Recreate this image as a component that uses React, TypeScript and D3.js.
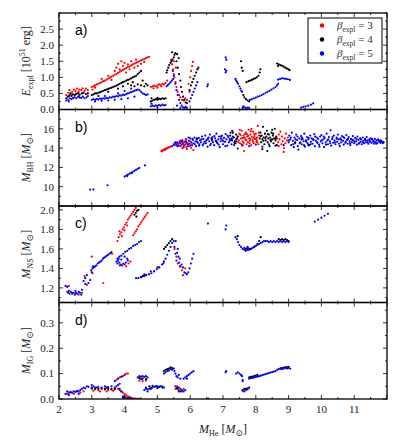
import React from 'react';
import * as d3 from 'd3';

type P = [number, number];

const W = 399, H = 444;
const left = 59, right = 387, top = 13, panelH = 96.5;

// x axis (M_He)
const xTicks = [2, 3, 4, 5, 6, 7, 8, 9, 10, 11];

// ---- panel a: E_expl ----
const aRed: P[] = [
  [2.22,0.45],[2.28,0.52],[2.32,0.6],[2.36,0.48],[2.4,0.55],[2.45,0.62],[2.5,0.58],[2.55,0.65],[2.6,0.55],[2.62,0.62],[2.68,0.6],[2.72,0.66],[2.78,0.58],[2.82,0.65],[2.88,0.6],[2.3,0.42],[2.52,0.5],
  [3.0,0.7],[3.05,0.72],[3.1,0.75],[3.15,0.78],[3.2,0.8],[3.25,0.82],[3.3,0.85],[3.35,0.88],[3.4,0.9],[3.45,0.93],[3.5,0.96],[3.55,0.99],[3.6,1.02],[3.65,1.05],[3.7,1.08],[3.75,1.1],[3.8,1.14],[3.85,1.17],[3.9,1.2],[3.95,1.23],[4.0,1.26],[4.05,1.29],[4.1,1.32],[4.15,1.34],[4.2,1.37],[4.25,1.4],[4.3,1.43],[4.35,1.45],[4.4,1.48],[4.45,1.5],[4.5,1.53],[4.55,1.55],[4.6,1.57],[4.65,1.6],[4.7,1.62],[4.75,1.64],
  [3.02,0.62],[3.1,0.68],[3.3,0.95],[3.5,1.05],[3.6,0.92],[3.7,1.2],[3.75,1.3],[3.8,1.42],[3.85,1.25],[3.9,1.5],[3.95,1.35],[4.0,1.45],[4.05,1.15],[4.1,1.4],[4.15,1.25],[4.2,1.5],[4.3,1.3],[4.35,1.55],[4.4,1.35],[4.5,1.42],[4.6,1.48],
  [4.8,0.7],[4.85,0.72],[4.9,0.74],[4.95,0.72],[5.0,0.75],[5.05,0.78],[5.1,0.76],[5.15,0.8],[5.2,0.78],[4.88,0.66],[5.0,0.68],[5.12,0.72],[5.25,0.82],[5.3,0.9],
  [5.42,1.55],[5.45,1.4],[5.48,1.25],[5.5,1.1],[5.52,1.0],[5.55,0.85],[5.58,0.7],[5.62,0.55],[5.66,0.45],[5.7,0.38],[5.75,0.3],[5.8,0.28],[5.85,0.35],[5.9,0.3],[5.5,1.5],[5.56,1.3],
  [5.95,0.8],[6.0,1.0],[6.03,1.2],[6.06,1.35],[6.08,1.48],[5.98,0.55],
];
const aBlack: P[] = [
  [2.22,0.35],[2.27,0.4],[2.32,0.44],[2.38,0.42],[2.42,0.47],[2.48,0.45],[2.52,0.48],[2.58,0.5],[2.63,0.46],[2.7,0.5],[2.75,0.52],[2.82,0.48],[2.88,0.5],[2.35,0.5],[2.6,0.4],
  [3.0,0.45],[3.05,0.47],[3.1,0.5],[3.15,0.5],[3.2,0.52],[3.25,0.54],[3.3,0.56],[3.35,0.58],[3.4,0.6],[3.45,0.62],[3.5,0.64],[3.55,0.66],[3.6,0.68],[3.65,0.7],[3.7,0.72],[3.75,0.74],[3.8,0.77],[3.85,0.8],[3.9,0.82],[3.95,0.85],[4.0,0.87],[4.05,0.9],[4.1,0.92],[4.15,0.94],[4.2,0.97],[4.25,1.0],[4.3,1.02],[4.35,1.05],[4.4,1.1],[4.45,1.15],[4.5,1.2],
  [4.2,0.75],[4.3,0.72],[4.4,0.78],[4.5,0.75],[4.6,0.72],[4.65,0.8],[4.7,0.75],[4.25,0.85],[4.55,0.9],[3.2,0.42],[3.5,0.55],[3.8,0.65],[3.95,0.72],[4.1,0.8],
  [4.8,0.25],[4.85,0.28],[4.9,0.3],[4.95,0.32],[5.0,0.3],[5.05,0.33],[5.1,0.32],[5.15,0.35],[5.2,0.33],[5.25,0.35],[4.82,0.35],[5.0,0.36],
  [5.28,1.15],[5.3,1.22],[5.33,1.3],[5.36,1.38],[5.4,1.45],[5.43,1.5],[5.46,1.55],[5.5,1.62],[5.52,1.7],[5.55,1.75],[5.45,1.78],[5.6,1.72],[5.65,1.6],[5.58,1.5],
  [5.62,1.3],[5.66,1.1],[5.7,0.9],[5.72,0.7],[5.75,0.55],[5.78,0.4],[5.82,0.3],[5.86,0.22],[5.9,0.2],
  [5.98,0.6],[6.02,0.75],[6.06,0.85],[6.1,0.95],[6.14,1.05],[6.18,1.15],[6.22,1.25],[6.25,1.3],
  [7.55,1.5],[7.57,1.3],[7.6,1.2],[7.62,0.45],[7.65,0.38],[7.7,0.32],[7.75,0.28],[7.8,0.25],[7.72,0.85],[7.78,0.88],[7.83,0.9],[7.88,0.92],[7.93,0.95],[7.98,0.97],[8.03,1.0],[8.08,1.05],[8.12,1.15],[8.14,1.25],
  [8.65,1.43],[8.7,1.4],[8.75,1.38],[8.8,1.36],[8.85,1.33],[8.9,1.3],[8.95,1.27],[9.0,1.25],[9.03,1.22],[8.68,1.35],
];
const aBlue: P[] = [
  [2.22,0.28],[2.28,0.3],[2.33,0.35],[2.38,0.32],[2.43,0.36],[2.48,0.38],[2.53,0.35],[2.58,0.4],[2.63,0.37],[2.68,0.36],[2.73,0.4],[2.78,0.35],[2.84,0.38],[2.88,0.42],[2.3,0.25],
  [3.0,0.3],[3.05,0.32],[3.1,0.3],[3.15,0.33],[3.2,0.31],[3.25,0.34],[3.3,0.33],[3.35,0.35],[3.4,0.34],[3.45,0.36],[3.5,0.35],[3.55,0.38],[3.6,0.37],[3.65,0.4],[3.7,0.39],[3.75,0.42],[3.8,0.41],[3.85,0.44],[3.9,0.43],[3.95,0.46],[4.0,0.45],[4.05,0.48],[4.1,0.5],[4.15,0.52],[4.2,0.54],[4.25,0.56],[4.3,0.58],[4.35,0.6],[4.4,0.62],[4.45,0.6],[4.5,0.55],[4.55,0.5],[4.6,0.48],[4.65,0.45],[4.7,0.47],
  [3.1,0.25],[3.3,0.27],[3.5,0.28],[3.7,0.3],[3.9,0.32],[4.1,0.35],[4.3,0.4],[3.4,0.42],[3.8,0.5],[4.0,0.58],[4.2,0.65],
  [4.8,0.1],[4.85,0.12],[4.9,0.1],[4.95,0.13],[5.0,0.11],[5.05,0.14],[5.1,0.12],[5.15,0.15],[5.2,0.13],[5.25,0.14],[4.82,0.18],[5.0,0.06],
  [5.28,0.72],[5.32,0.76],[5.36,0.8],[5.4,0.85],[5.44,0.9],[5.48,0.95],[5.5,1.05],[5.47,1.2],
  [5.55,0.8],[5.58,0.6],[5.62,0.45],[5.66,0.3],[5.7,0.2],[5.74,0.12],[5.78,0.07],[5.82,0.05],[5.86,0.08],[5.9,0.05],[5.6,0.12],[5.7,0.05],
  [5.98,0.25],[6.02,0.35],[6.06,0.45],[6.1,0.55],[6.14,0.65],[6.18,0.75],[6.22,0.85],
  [6.52,0.72],[6.54,0.78],[7.08,1.62],[7.1,1.55],[7.06,1.25],[7.1,1.2],[7.08,1.15],
  [7.38,0.95],[7.4,0.9],[7.43,0.85],[7.46,0.8],[7.5,0.72],[7.53,0.65],[7.56,0.58],[7.58,0.55],
  [7.6,0.05],[7.65,0.07],[7.7,0.04],[7.75,0.06],[7.8,0.05],[7.62,0.1],
  [7.82,0.3],[7.88,0.32],[7.94,0.35],[8.0,0.37],[8.06,0.4],[8.12,0.42],[8.18,0.45],[8.24,0.48],[8.3,0.52],[8.36,0.55],[8.42,0.58],[8.48,0.62],[8.54,0.66],[8.6,0.7],[8.65,0.75],[8.68,0.8],
  [8.68,0.93],[8.74,0.95],[8.8,0.97],[8.86,0.96],[8.92,0.95],[8.98,0.94],[9.04,0.92],
  [9.38,0.06],[9.45,0.08],[9.52,0.1],[9.6,0.12],[9.68,0.15],[9.75,0.19],
];

// ---- panel b: M_BH ----
const bRed: P[] = [
  [5.12,13.7],[5.15,13.75],[5.18,13.8],[5.2,13.85],[5.23,13.9],[5.26,13.95],[5.3,14.0],[5.33,14.05],[5.36,14.1],[5.4,14.15],[5.14,13.65],[5.22,13.8],[5.28,13.92],
  [5.65,14.5],[5.7,14.2],[5.72,14.8],[5.76,14.0],[5.8,14.6],[5.83,14.3],[5.86,14.9],[5.9,13.9],[5.93,14.5],[5.96,14.2],[6.0,14.7],[6.03,14.0],[6.06,14.4],[6.1,13.8],[5.75,14.4],[5.88,14.1],
  [7.45,15.2],[7.48,14.8],[7.5,15.5],[7.52,14.5],[7.55,15.0],[7.57,15.8],[7.6,14.7],[7.62,15.3],[7.64,13.7],[7.66,15.1],[7.68,14.9],[7.7,15.6],[7.72,14.4],[7.74,15.2],[7.76,14.6],[7.78,15.9],[7.8,15.0],[7.82,14.75],[7.84,15.4],[7.86,14.3],[7.88,15.15],[7.9,14.85],[7.92,15.7],[7.94,14.5],[7.96,15.25],[7.98,14.95],[8.0,15.5],[8.02,14.65],[8.04,15.1],[8.06,16.3],[8.08,14.4],[8.1,15.3],[7.53,15.35],[7.63,14.55],[7.73,15.45],[7.83,14.95],[7.93,15.05],[8.03,14.8],[7.58,14.25],[7.87,16.0],
  [7.47,14.6],[7.51,15.9],[7.56,14.4],[7.61,15.05],[7.67,15.45],[7.71,14.8],[7.77,15.3],[7.81,14.5],[7.85,15.75],[7.91,14.65],[7.95,15.45],[8.01,15.0],[8.05,14.6],[8.09,15.6],
  [8.65,15.0],[8.68,14.6],[8.7,15.4],[8.72,14.9],[8.75,15.7],[8.78,14.4],[8.8,15.2],[8.82,14.7],[8.85,13.6],[8.88,15.0],[8.9,14.5],[8.92,15.5],[8.95,14.8],[8.98,15.1],[8.7,14.2],[8.86,14.0],
];
const bBlack: P[] = [
  [7.22,15.3],[7.26,14.9],[7.3,15.6],[7.33,15.1],[7.36,14.7],[7.4,15.4],[7.43,15.0],[7.28,15.8],[7.38,14.5],[7.45,15.2],
  [8.12,15.0],[8.14,15.6],[8.16,14.6],[8.18,15.3],[8.2,14.9],[8.22,16.2],[8.24,15.1],[8.26,14.4],[8.28,15.5],[8.3,14.8],[8.32,15.2],[8.34,15.8],[8.36,14.6],[8.38,15.0],[8.4,15.4],[8.42,14.2],[8.44,15.1],[8.46,14.7],[8.48,15.6],[8.5,14.9],[8.52,15.3],[8.54,14.5],[8.56,15.0],[8.58,16.0],[8.6,14.8],[8.62,15.2],[8.64,14.3],[8.2,13.9],[8.35,13.7],[8.5,15.9],
  [8.15,15.25],[8.23,14.75],[8.29,15.05],[8.37,15.45],[8.45,14.85],[8.53,15.5],[8.61,15.0],
  [6.65,15.0],[6.8,14.7],[6.95,15.2],[9.2,14.6],[9.4,14.9],[9.6,14.3],[5.95,15.1],[6.2,15.0],
];
const bBlue: P[] = [
  [2.95,9.7],[3.05,9.72],[3.48,10.15],
  [4.0,11.05],[4.05,11.15],[4.1,11.25],[4.15,11.35],[4.2,11.45],[4.25,11.55],[4.3,11.65],[4.35,11.75],[4.4,11.85],[4.45,11.95],[4.08,11.1],[4.22,11.4],[4.62,12.2],
  [5.45,14.2],[5.5,14.4],[5.52,14.3],[5.55,14.5],[5.58,14.35],[5.6,14.6],[5.62,14.45],[5.65,14.25],[5.68,14.7],[5.7,14.5],[5.73,14.3],[5.76,14.8],[5.78,14.55],[5.8,14.1],[5.83,14.65],[5.86,14.4],[5.88,14.9],[5.9,14.55],[5.93,14.2],[5.96,14.75],[5.98,14.45],[6.0,15.0],[6.03,14.6],[6.06,14.3],[6.08,14.85],[6.1,14.5],[6.13,15.1],[6.16,14.7],[6.18,14.2],[6.2,14.9],[6.23,14.55],[6.26,15.05],[6.28,14.4],[6.3,14.8],[6.33,14.6],[6.36,15.2],[6.38,14.3],[6.4,14.95],[6.43,14.65],[6.46,15.3],[6.48,14.5],[6.5,14.85],[6.53,14.15],[6.56,15.1],[6.58,14.7],[6.6,15.4],[6.63,14.45],[6.66,14.9],[6.68,15.15],[6.7,14.6],[6.73,14.3],[6.76,15.0],[6.78,14.75],[6.8,15.5],[6.83,14.5],[6.86,14.9],[6.88,15.2],[6.9,14.1],[6.93,14.7],[6.96,15.3],[6.98,14.85],[7.0,14.4],[7.03,15.05],[7.06,14.65],[7.08,15.45],[7.1,14.9],[7.13,14.25],[7.16,15.15],[7.18,14.6],[7.2,14.95],[7.23,15.6],[7.26,14.4],[7.28,14.8],[7.3,15.2],[7.35,14.55],[7.4,14.9],[7.45,13.95],[7.6,14.3],[7.8,14.2],[8.0,14.35],[8.2,14.15],[8.4,14.4],[8.6,14.25],[8.85,14.3],
  [9.0,14.6],[9.02,15.3],[9.05,14.9],[9.08,14.3],[9.1,15.6],[9.13,14.75],[9.16,14.1],[9.18,15.1],[9.2,14.5],[9.23,15.4],[9.26,14.85],[9.28,14.2],[9.3,13.85],[9.33,15.0],[9.36,14.6],[9.38,15.25],[9.4,14.4],[9.43,14.95],[9.46,14.7],[9.48,15.5],[9.5,14.15],[9.53,14.8],[9.56,15.15],[9.58,14.5],[9.6,14.9],[9.63,14.3],[9.66,15.3],[9.68,14.65],[9.7,15.0],[9.73,14.45],[9.76,14.85],[9.78,15.45],[9.8,14.2],[9.83,14.75],[9.86,15.1],[9.88,14.55],[9.9,14.95],[9.93,14.35],[9.96,15.2],[9.98,14.7],
  [10.0,15.35],[10.03,14.5],[10.06,14.9],[10.08,14.1],[10.1,15.05],[10.13,14.6],[10.16,15.5],[10.18,14.8],[10.2,14.4],[10.23,15.15],[10.26,14.7],[10.28,15.85],[10.3,14.25],[10.33,14.95],[10.36,14.55],[10.38,15.3],[10.4,14.8],[10.43,14.4],[10.46,15.1],[10.48,14.65],[10.5,15.4],[10.53,14.9],[10.56,14.2],[10.58,15.0],[10.6,14.6],[10.63,15.25],[10.66,14.75],[10.68,14.35],[10.7,15.05],[10.73,14.55],[10.76,15.35],[10.78,14.85],[10.8,14.45],[10.83,15.15],[10.86,14.7],[10.88,14.3],[10.9,14.95],[10.93,14.6],[10.96,15.25],[10.98,14.8],
  [11.0,14.5],[11.03,15.05],[11.06,14.7],[11.08,14.35],[11.1,15.2],[11.13,14.85],[11.16,14.55],[11.18,15.0],[11.2,14.65],[11.23,14.4],[11.26,15.1],[11.28,14.75],[11.3,14.5],[11.33,14.95],[11.36,14.6],[11.38,15.15],[11.4,14.8],[11.43,14.45],[11.46,14.9],[11.48,14.65],[11.5,15.0],[11.53,14.55],[11.56,14.85],[11.58,14.7],[11.6,14.45],[11.63,14.95],[11.66,14.6],[11.68,14.8],[11.7,14.5],[11.73,14.9],[11.76,14.65],[11.78,14.75],[11.8,14.55],[11.83,14.7],[11.86,14.6],[11.88,14.65],
  [5.54,14.6],[5.61,14.2],[5.67,14.5],[5.74,14.65],[5.81,14.35],[5.87,14.7],[5.94,14.4],[6.01,14.25],[6.07,14.95],[6.14,14.4],[6.21,14.65],[6.27,14.25],[6.34,14.9],[6.41,14.45],[6.47,14.7],[6.54,14.95],[6.61,14.3],[6.67,14.75],[6.74,15.25],[6.81,14.6],[6.87,14.35],[6.94,15.0],[7.01,14.7],[7.07,14.2],[7.14,15.3],[7.21,14.75],[7.27,15.0],[7.34,14.3],[7.41,14.7],
  [9.01,14.8],[9.07,15.1],[9.14,14.4],[9.21,14.9],[9.27,15.2],[9.34,14.5],[9.41,15.1],[9.47,14.3],[9.54,14.65],[9.61,15.05],[9.67,14.4],[9.74,14.9],[9.81,15.2],[9.87,14.6],[9.94,14.15],[10.01,14.8],[10.07,15.2],[10.14,14.35],[10.21,14.9],[10.27,14.5],[10.34,15.15],[10.41,14.6],[10.47,14.95],[10.54,14.45],[10.61,14.85],[10.67,15.15],[10.74,14.65],[10.81,14.95],[10.87,14.5],[10.94,14.85],
  [11.01,14.65],[11.07,14.95],[11.14,14.45],[11.21,14.9],[11.27,14.6],[11.34,14.8],[11.41,14.6],[11.47,14.75],[11.54,14.95],[11.61,14.65],[11.67,14.45],[11.74,14.75],[11.81,14.8],[11.87,14.5],[11.9,14.6],
];

// ---- panel c: M_NS ----
const cRed: P[] = [
  [2.25,1.16],[2.3,1.22],[2.4,1.15],[2.5,1.14],[2.6,1.13],[2.7,1.15],[2.78,1.32],[2.85,1.23],[3.0,1.52],[3.02,1.35],[3.35,1.25],
  [3.78,1.68],[3.82,1.72],[3.86,1.75],[3.9,1.77],[3.94,1.8],[3.98,1.82],[4.02,1.85],[4.06,1.87],[4.1,1.9],[4.14,1.92],[4.18,1.94],[4.22,1.96],[4.26,1.98],[4.3,2.0],[4.34,2.02],[3.84,1.78],[3.92,1.73],[4.0,1.79],[4.08,1.84],
  [4.26,1.74],[4.3,1.76],[4.34,1.78],[4.38,1.8],[4.42,1.83],[4.46,1.85],[4.5,1.87],[4.54,1.89],[4.58,1.91],[4.62,1.93],[4.66,1.95],[4.7,1.97],
  [3.6,1.57],[3.62,1.55],[4.05,1.42],[4.12,1.45],[4.18,1.47],[3.85,1.43],
  [4.6,1.32],[4.75,1.34],[4.9,1.37],[5.05,1.41],[5.2,1.47],
  [5.52,1.6],[5.58,1.52],[5.62,1.45],[5.68,1.42],[5.75,1.38],[5.78,1.33],[5.85,1.4],
];
const cBlack: P[] = [
  [4.3,1.95],[4.34,1.97],[4.38,1.99],[4.42,2.0],[4.36,1.93],
  [4.5,1.31],[4.55,1.32],[4.65,1.33],
  [5.2,1.6],[5.25,1.62],[5.3,1.64],[5.35,1.66],[5.4,1.68],[5.45,1.7],
  [7.45,1.73],[7.7,1.6],[7.75,1.61],[7.8,1.6],[7.85,1.6],[7.95,1.62],[8.05,1.65],[8.1,1.68],[8.15,1.72],
  [8.7,1.7],[8.75,1.69],[8.8,1.7],[8.85,1.69],[8.9,1.7],[8.95,1.69],[9.0,1.68],
];
const cBlue: P[] = [
  [2.2,1.22],[2.25,1.21],[2.28,1.15],[2.32,1.14],[2.36,1.16],[2.4,1.14],[2.44,1.15],[2.48,1.13],[2.52,1.15],[2.56,1.14],[2.6,1.16],[2.64,1.15],[2.68,1.13],[2.3,1.17],[2.5,1.17],[2.7,1.18],
  [2.75,1.27],[2.8,1.3],[2.85,1.33],[2.9,1.25],[2.95,1.28],[2.8,1.24],
  [2.98,1.38],[3.02,1.4],[3.06,1.41],[3.1,1.42],[3.14,1.43],[3.18,1.45],[3.22,1.46],[3.26,1.47],[3.3,1.48],[3.34,1.5],[3.38,1.51],[3.42,1.52],[3.46,1.53],[3.5,1.54],[3.54,1.55],[3.58,1.56],[3.0,1.36],[3.04,1.42],
  [3.75,1.47],[3.78,1.45],[3.8,1.48],[3.84,1.46],[3.88,1.44],[3.92,1.43],[3.96,1.45],[4.0,1.44],[4.04,1.46],[4.08,1.5],[3.82,1.5],[3.9,1.49],[4.0,1.52],[4.1,1.48],
  [3.78,1.5],[3.84,1.52],[3.9,1.53],[3.96,1.55],[4.02,1.57],[4.08,1.58],[4.14,1.6],[4.2,1.61],[4.26,1.63],[4.32,1.64],[4.38,1.65],[4.44,1.67],[4.5,1.68],
  [4.35,1.3],[4.42,1.3],[4.5,1.31],[4.58,1.32],[4.66,1.33],[4.74,1.34],[4.82,1.35],[4.9,1.37],[4.98,1.39],[5.06,1.41],[5.14,1.44],[5.2,1.47],[5.25,1.5],[5.3,1.54],[5.35,1.58],[5.4,1.62],[5.45,1.66],[4.6,1.34],[4.8,1.37],[5.0,1.41],[5.18,1.45],
  [5.5,1.68],[5.52,1.62],[5.55,1.55],[5.58,1.48],[5.6,1.56],[5.62,1.6],[5.64,1.52],[5.66,1.46],[5.7,1.42],[5.74,1.44],[5.78,1.41],[5.82,1.36],[5.86,1.35],[5.9,1.34],[5.94,1.36],[5.98,1.4],[6.02,1.45],[6.06,1.5],[6.1,1.55],[5.56,1.68],[5.68,1.5],
  [6.54,1.86],[7.08,1.8],[7.1,1.84],[7.38,1.72],[7.42,1.7],[7.46,1.67],[7.5,1.64],[7.55,1.62],[7.6,1.6],[7.65,1.59],[7.7,1.58],[7.75,1.59],[7.8,1.59],[7.85,1.6],[7.9,1.61],[7.95,1.62],[8.0,1.63],[8.05,1.64],[8.1,1.65],[8.15,1.66],[8.2,1.67],[8.25,1.68],[8.3,1.68],[8.35,1.68],[8.4,1.67],[8.45,1.68],[8.5,1.67],[8.55,1.68],[8.6,1.67],[8.65,1.68],[8.7,1.67],[8.75,1.68],[8.8,1.67],[8.85,1.68],[8.9,1.67],[8.95,1.68],[9.0,1.67],[7.65,1.61],[7.75,1.62],
  [9.8,1.88],[9.9,1.9],[10.0,1.92],[10.1,1.94],[10.2,1.96],
];

// ---- panel d: M_IG ----
const dRed: P[] = [
  [2.25,0.02],[2.35,0.025],[2.45,0.02],[2.55,0.03],[2.65,0.025],[2.75,0.03],
  [3.0,0.04],[3.1,0.038],[3.2,0.035],[3.3,0.04],[3.4,0.037],[3.5,0.035],[3.6,0.04],[3.7,0.038],[3.8,0.04],[3.05,0.032],[3.25,0.03],[3.45,0.03],[3.65,0.032],
  [3.85,0.035],[3.9,0.03],[3.95,0.025],[4.0,0.02],[4.05,0.015],[4.1,0.01],[4.15,0.008],[4.2,0.005],[4.3,0.003],[4.4,0.002],[4.45,0.001],
  [3.75,0.075],[3.85,0.085],[3.95,0.09],[4.05,0.1],[4.1,0.1],
  [4.45,0.072],[4.55,0.07],[4.65,0.073],
  [5.55,0.04],[5.6,0.05],[5.65,0.035],[5.75,0.03],[5.8,0.04],
];
const dBlack: P[] = [
  [3.0,0.042],[3.1,0.04],[3.2,0.04],[3.3,0.042],[3.4,0.04],[3.5,0.04],[3.6,0.038],[3.7,0.04],[3.15,0.045],[3.45,0.045],
  [3.95,0.005],[4.0,0.008],[4.1,0.003],[4.2,0.002],
  [4.45,0.082],[4.55,0.08],[4.65,0.078],
  [4.65,0.045],[4.75,0.05],[4.85,0.052],[4.95,0.05],[5.05,0.048],[5.15,0.045],[4.8,0.04],[5.0,0.043],
  [5.2,0.11],[5.25,0.115],[5.3,0.118],[5.35,0.12],[5.4,0.125],[5.45,0.122],
  [5.6,0.04],[5.65,0.045],[5.7,0.03],
  [7.6,0.035],[7.65,0.04],[7.7,0.04],[7.75,0.042],[7.8,0.045],
  [7.8,0.085],[7.85,0.087],[7.9,0.088],[7.95,0.09],[8.0,0.092],[8.05,0.095],
  [8.75,0.12],[8.8,0.122],[8.85,0.124],[8.9,0.125],[8.95,0.126],[9.0,0.127],
];
const dBlue: P[] = [
  [2.2,0.02],[2.25,0.03],[2.3,0.025],[2.35,0.028],[2.4,0.025],[2.45,0.03],[2.5,0.028],[2.55,0.032],[2.6,0.03],[2.65,0.035],[2.7,0.04],[2.75,0.045],[2.8,0.042],[2.85,0.05],[2.9,0.048],[2.3,0.015],[2.6,0.02],
  [3.0,0.045],[3.05,0.05],[3.1,0.045],[3.2,0.048],[3.3,0.045],[3.4,0.05],[3.5,0.047],[3.6,0.05],[3.7,0.045],[3.75,0.05],[3.8,0.055],[3.85,0.04],[3.9,0.03],[3.0,0.055],
  [3.7,0.07],[3.8,0.08],[3.9,0.088],[4.0,0.095],[3.85,0.06],
  [3.95,0.01],[4.05,0.005],[4.15,0.004],[4.25,0.002],[4.35,0.0],
  [4.4,0.085],[4.45,0.09],[4.5,0.088],[4.55,0.09],[4.6,0.087],[4.65,0.09],[4.7,0.085],[4.5,0.078],
  [4.6,0.035],[4.65,0.04],[4.7,0.038],[4.75,0.04],[4.8,0.045],[4.85,0.045],[4.9,0.048],[4.95,0.05],[5.0,0.05],[5.05,0.048],[5.1,0.05],[5.15,0.05],[5.2,0.045],[4.7,0.03],
  [5.2,0.1],[5.25,0.105],[5.3,0.11],[5.35,0.112],[5.4,0.118],[5.45,0.115],[5.5,0.12],[5.52,0.11],[5.55,0.1],[5.58,0.09],[5.62,0.085],[5.65,0.095],[5.7,0.08],
  [5.55,0.05],[5.6,0.045],[5.65,0.03],[5.7,0.04],[5.75,0.035],[5.8,0.03],[5.85,0.035],
  [5.8,0.08],[5.85,0.085],[5.9,0.09],[5.95,0.095],[6.0,0.1],[6.05,0.105],[6.1,0.11],[5.9,0.08],
  [6.55,0.002],[7.08,0.105],[7.1,0.11],[7.4,0.1],[7.45,0.105],[7.5,0.1],[7.55,0.095],[7.58,0.09],[7.6,0.075],[7.6,0.07],
  [7.6,0.032],[7.65,0.03],[7.7,0.035],[7.75,0.038],
  [7.8,0.08],[7.85,0.082],[7.9,0.083],[7.95,0.085],[8.0,0.087],[8.05,0.088],[8.1,0.09],[8.15,0.092],[8.2,0.094],[8.25,0.096],[8.3,0.098],[8.35,0.1],[8.4,0.102],[8.45,0.104],[8.5,0.106],[8.55,0.108],[8.6,0.11],[8.65,0.115],[8.7,0.118],[8.75,0.12],[8.8,0.118],[8.85,0.12],[8.9,0.122],[8.95,0.12],[9.0,0.122],[9.05,0.12],
];

const legendLabels = ['3', '4', '5'];
const colors = ['#ff0000', '#000000', '#0000ff'];

const aTicks = [0, 0.5, 1, 1.5, 2, 2.5];
const bTicks = [10, 12, 14, 16];
const cTicks = [1.2, 1.4, 1.6, 1.8, 2.0];
const dTicks = [0, 0.1, 0.2, 0.3];

const serif = '"Liberation Serif", "DejaVu Serif", serif';
const sans = '"Liberation Sans", "DejaVu Sans", sans-serif';

const x = d3.scaleLinear().domain([2, 12]).range([left, right]);

const panels = [
  { id: 'a', label: 'a)', domain: [0, 3], ticks: aTicks, minor: 0.25, fmt: '.1f', sym: 'E', sub: 'expl', unit: 'erg', series: [aRed, aBlack, aBlue] },
  { id: 'b', label: 'b)', domain: [8, 18], ticks: bTicks, minor: 1, fmt: 'd', sym: 'M', sub: 'BH', unit: 'sun', series: [bRed, bBlack, bBlue] },
  { id: 'c', label: 'c)', domain: [1.05, 2.04], ticks: cTicks, minor: 0.1, fmt: '.1f', sym: 'M', sub: 'NS', unit: 'sun', series: [cRed, cBlack, cBlue] },
  { id: 'd', label: 'd)', domain: [0, 0.38], ticks: dTicks, minor: 0.05, fmt: '.1f', sym: 'M', sub: 'IG', unit: 'sun', series: [dRed, dBlack, dBlue] },
];

function Panel({ p, i }: { p: any; i: number }) {
  const y0 = top + i * panelH;
  const y1 = y0 + panelH;
  const y = d3.scaleLinear().domain(p.domain).range([y1, y0]);
  const fmt = d3.format(p.fmt);
  const xMinor = d3.range(2, 12.01, 0.5);
  const yMinor = d3.range(Math.ceil(p.domain[0] / p.minor) * p.minor, p.domain[1] + 1e-9, p.minor);
  const isMajorX = (v: number) => Math.abs(v - Math.round(v)) < 1e-6;
  const isMajorY = (v: number) => p.ticks.some((t: number) => Math.abs(t - v) < 1e-6);
  const cy = (y0 + y1) / 2;
  // blue drawn under red/black in panel b (clouds), on top elsewhere
  const order = p.id === 'b' ? [2, 0, 1] : [0, 1, 2];
  return (
    <g>
      <defs>
        <clipPath id={'clip' + p.id}>
          <rect x={left} y={y0} width={right - left} height={panelH} />
        </clipPath>
      </defs>
      <g clipPath={`url(#clip${p.id})`}>
        {order.map((k) => (
          <g key={k} fill={colors[k]}>
            {(p.series[k] as P[]).map((d, j) => (
              <circle key={j} cx={x(d[0])} cy={y(d[1])} r={1.1} />
            ))}
          </g>
        ))}
      </g>
      {xMinor.map((v) => {
        const len = isMajorX(v) ? 4 : 2;
        return (
          <g key={'x' + v} stroke="#000" strokeWidth={0.8}>
            <line x1={x(v)} x2={x(v)} y1={y1} y2={y1 - len} />
            <line x1={x(v)} x2={x(v)} y1={y0} y2={y0 + len} />
          </g>
        );
      })}
      {yMinor.map((v) => {
        const len = isMajorY(v) ? 4 : 2;
        return (
          <g key={'y' + v} stroke="#000" strokeWidth={0.8}>
            <line x1={left} x2={left + len} y1={y(v)} y2={y(v)} />
            <line x1={right} x2={right - len} y1={y(v)} y2={y(v)} />
          </g>
        );
      })}
      {p.ticks.map((t: number) => (
        <text key={t} x={left - 5} y={y(t)} dy="0.35em" textAnchor="end" fontFamily={serif} fontSize={11} fill="#222">
          {fmt(t)}
        </text>
      ))}
      <rect x={left} y={y0} width={right - left} height={panelH} fill="none" stroke="#000" strokeWidth={1.3} />
      <text x={75} y={y0 + 22} fontFamily={sans} fontSize={14} fill="#000">{p.label}</text>
      <text transform={`translate(30,${cy}) rotate(-90)`} textAnchor="middle" fontFamily={serif} fontSize={12} fill="#222">
        <tspan fontStyle="italic">{p.sym}</tspan>
        <tspan fontSize={8} dy={3}>{p.sub}</tspan>
        {p.unit === 'erg' ? (
          <>
            <tspan dy={-3}> [10</tspan>
            <tspan fontSize={8} dy={-5}>51</tspan>
            <tspan dy={5}> erg]</tspan>
          </>
        ) : (
          <>
            <tspan dy={-3}> [</tspan>
            <tspan fontStyle="italic">M</tspan>
            <tspan fontSize={9} dy={3}>⊙</tspan>
            <tspan dy={-3}>]</tspan>
          </>
        )}
      </text>
    </g>
  );
}

export default function App() {
  const yBottom = top + 4 * panelH;
  return (
    <svg width={W} height={H} style={{ position: 'absolute', left: 0, top: 0, background: '#fff' }}>
      <rect width={W} height={H} fill="#fff" />
      {panels.map((p, i) => (
        <Panel key={p.id} p={p} i={i} />
      ))}
      {xTicks.map((t) => (
        <text key={t} x={x(t)} y={yBottom + 14} textAnchor="middle" fontFamily={serif} fontSize={11} fill="#222">
          {t}
        </text>
      ))}
      <text x={(left + right) / 2} y={yBottom + 34} textAnchor="middle" fontFamily={serif} fontSize={12} fill="#222">
        <tspan fontStyle="italic">M</tspan>
        <tspan fontSize={8} dy={3}>He</tspan>
        <tspan dy={-3}> [</tspan>
        <tspan fontStyle="italic">M</tspan>
        <tspan fontSize={9} dy={3}>⊙</tspan>
        <tspan dy={-3}>]</tspan>
      </text>
      <g>
        <rect x={308} y={18} width={74} height={45} fill="#fff" stroke="#000" strokeWidth={1} />
        {legendLabels.map((l, k) => (
          <g key={l}>
            <circle cx={322} cy={25.5 + k * 14} r={2.2} fill={colors[k]} />
            <text x={337} y={29 + k * 14} fontFamily={serif} fontSize={11} fill="#333">
              <tspan fontStyle="italic">β</tspan>
              <tspan fontSize={7.5} dy={2.5}>expl</tspan>
              <tspan dy={-2.5}> = {l}</tspan>
            </text>
          </g>
        ))}
      </g>
    </svg>
  );
}
